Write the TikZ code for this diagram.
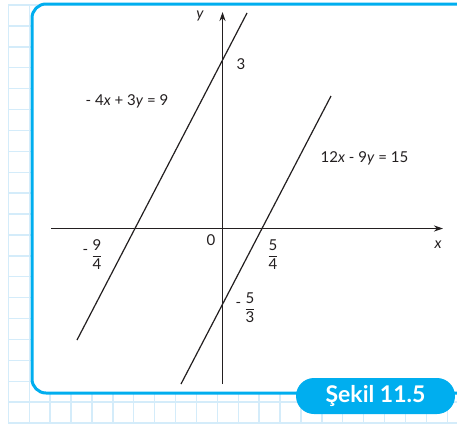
\documentclass[tikz,border=0pt]{standalone}
\usepackage{fontspec}
\setmainfont{Lato}
\usepackage{amsmath}
\usetikzlibrary{arrows.meta}
\definecolor{kcyan}{RGB}{0,174,239}
\definecolor{kgrid}{RGB}{212,236,250}
\definecolor{kink}{RGB}{35,31,32}
\newcommand{\kfr}[2]{$\dfrac{\mbox{#1}}{\mbox{#2}}$}
\tikzset{
  axisline/.style={kink, line width=1.4pt, -{Stealth[length=9pt,width=6pt]}},
  graphline/.style={kink, line width=1.2pt},
  lbl/.style={text=kink, font=\fontsize{15}{18}\selectfont, inner sep=0pt},
  badge/.style={fill=kcyan, rounded corners=18pt, minimum width=159pt, minimum height=36pt, text=white, font=\fontsize{23}{26}\bfseries\selectfont, inner sep=0pt},
}
\begin{document}
\begin{tikzpicture}[x=1pt,y=-1pt]
\useasboundingbox (0,0) rectangle (457,426);
\fill[white] (0,0) rectangle (457,426);
% grid
\foreach \i in {0,...,21} {
  \draw[kgrid, line width=1.4pt] ({8.3+20.9*\i},5) -- ({8.3+20.9*\i},423.3);
}
\foreach \j in {0,...,20} {
  \draw[kgrid, line width=1.4pt] (8.3,{5+20.9*\j}) -- (460,{5+20.9*\j});
}
% frame
\draw[kcyan, line width=3pt, fill=white, rounded corners=14pt] (32,4) rectangle (480,393);
% axes
\coordinate (xa) at (51,228.5);
\coordinate (xb) at (443,228.5);
\coordinate (ya) at (222.5,384);
\coordinate (yb) at (222.5,12);
\draw[axisline] (xa) -- (xb);
\draw[axisline] (ya) -- (yb);
% lines
\coordinate (p1) at (77,340);
\coordinate (q1) at (247,13);
\coordinate (p2) at (181,384);
\coordinate (q2) at (331,96);
\draw[graphline] (p1) -- (q1);
\draw[graphline] (p2) -- (q2);
% labels
\node[lbl] (ly) at (200,16) {\itshape y};
\node[lbl] (lx) at (438,245) {\itshape x};
\node[lbl] (l3) at (241,64) {3};
\node[lbl] (l0) at (211,240) {0};
\node[lbl] (eq1) at (127,101) {- 4\textit{x} + 3\textit{y} = 9};
\node[lbl] (eq2) at (364.5,158) {12\textit{x} - 9\textit{y} = 15};
\node[lbl] (m94) at (85.5,252) {-};
\node[lbl] (f94) at (97,254.5) {\kfr{9}{4}};
\node[lbl] (f54) at (273,254.5) {\kfr{5}{4}};
\node[lbl] (m53) at (238.5,305) {-};
\node[lbl] (f53) at (250,307.5) {\kfr{5}{3}};
% badge
\node[badge] (sekil) at (375.5,396) {Şekil 11.5};
\end{tikzpicture}
\end{document}
